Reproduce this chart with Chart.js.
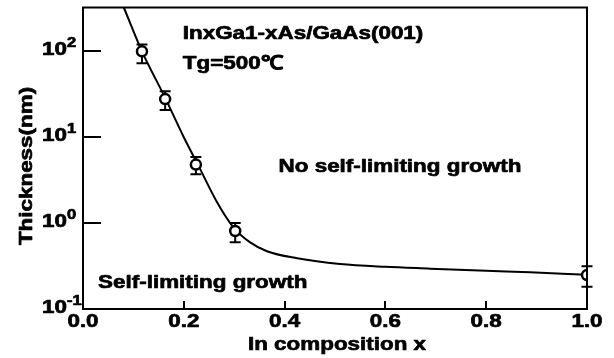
<!DOCTYPE html>
<html>
<head>
<meta charset="utf-8">
<script src="https://cdn.jsdelivr.net/npm/chart.js@4/dist/chart.umd.min.js"></script>
<style>
html,body{margin:0;padding:0;background:#fff;}
#wrap{width:614px;height:358px;}
</style>
</head>
<body>
<div id="wrap"><canvas id="c" width="614" height="358"></canvas></div>
<script>
// ---- data ----
const pointX   = [0.117, 0.163, 0.224, 0.302, 1.0];
const pointY   = [100, 27.8, 4.8, 0.81, 0.248];
const errLow   = [72.6, 20.7, 3.7, 0.60, 0.181];
const errHigh  = [120, 34.4, 5.9, 1.0, 0.315];

const curveX = [0.081, 0.117, 0.164, 0.200, 0.228, 0.266, 0.298, 0.331, 0.365, 0.425, 0.51, 0.60, 0.689, 0.80, 0.887, 1.0];
const curveY = [324, 100, 28, 10, 4.8, 1.75, 0.90, 0.60, 0.47, 0.39, 0.335, 0.31, 0.295, 0.278, 0.268, 0.25];

const xTickValues = [0, 0.2, 0.4, 0.6, 0.8, 1.0];
const xTickLabels = ['0.0', '0.2', '0.4', '0.6', '0.8', '1.0'];
const yTickValues = [0.1, 1, 10, 100];
const yTickExponents = ['-1', '0', '1', '2'];

const xTitle = 'In composition x';
const yTitle = 'Thickness(nm)';
const annotations = [
  {text: 'InxGa1-xAs/GaAs(001)', x: 0.198, y: 138},
  {text: 'Tg=500\u2103', x: 0.198, y: 62},
  {text: 'No self-limiting growth', x: 0.388, y: 3.9},
  {text: 'Self-limiting growth', x: 0.030, y: 0.175}
];

const FONT = '"Liberation Sans", Arial, sans-serif';
const SX = 1.18;

function txt(ctx, s, x, y, size, align) {
  ctx.save();
  ctx.font = 'bold ' + size + 'px ' + FONT;
  ctx.fillStyle = '#000';
  ctx.strokeStyle = '#000';
  ctx.lineWidth = 0.7;
  ctx.lineJoin = 'round';
  ctx.textBaseline = 'alphabetic';
  ctx.textAlign = align || 'left';
  ctx.translate(x, y);
  ctx.scale(SX, 1);
  ctx.fillText(s, 0, 0);
  ctx.strokeText(s, 0, 0);
  const w = ctx.measureText(s).width * SX;
  ctx.restore();
  return w;
}

const errorBars = {
  id: 'errorBars',
  beforeDatasetsDraw(chart) {
    const ctx = chart.ctx, xs = chart.scales.x, ys = chart.scales.y;
    ctx.save();
    ctx.strokeStyle = '#000';
    ctx.lineWidth = 2;
    for (let i = 0; i < pointX.length; i++) {
      const px = xs.getPixelForValue(pointX[i]);
      const pl = ys.getPixelForValue(errLow[i]);
      const ph = ys.getPixelForValue(errHigh[i]);
      ctx.beginPath();
      ctx.moveTo(px, pl); ctx.lineTo(px, ph);
      ctx.moveTo(px - 5.5, pl); ctx.lineTo(px + 5.5, pl);
      ctx.moveTo(px - 5.5, ph); ctx.lineTo(px + 5.5, ph);
      ctx.stroke();
    }
    ctx.restore();
  }
};

const frame = {
  id: 'frame',
  afterDraw(chart) {
    const ctx = chart.ctx, a = chart.chartArea, xs = chart.scales.x, ys = chart.scales.y;
    ctx.save();
    ctx.strokeStyle = '#000';
    ctx.lineWidth = 2;
    ctx.strokeRect(a.left, a.top, a.right - a.left, a.bottom - a.top);
    ctx.beginPath();
    yTickValues.forEach(v => {
      const y = Math.round(ys.getPixelForValue(v));
      if (y > a.top + 1 && y < a.bottom - 1) { ctx.moveTo(a.left, y); ctx.lineTo(a.left + 18, y); }
    });
    xTickValues.forEach(v => {
      const x = Math.round(xs.getPixelForValue(v));
      if (x > a.left + 1 && x < a.right - 1) { ctx.moveTo(x, a.bottom); ctx.lineTo(x, a.bottom - 8); }
    });
    ctx.stroke();
    ctx.restore();

    xTickValues.forEach((v, i) => {
      txt(ctx, xTickLabels[i], xs.getPixelForValue(v), a.bottom + 18, 19, 'center');
    });
    yTickValues.forEach((v, i) => {
      const y = ys.getPixelForValue(v);
      const w = txt(ctx, '10', 42, y + 4, 19, 'left');
      txt(ctx, yTickExponents[i], 42 + w, y - 4, 14, 'left');
    });
    txt(ctx, xTitle, (a.left + a.right) / 2 + 2, a.bottom + 41, 19, 'center');
    ctx.save();
    ctx.translate(32, 166);
    ctx.rotate(-Math.PI / 2);
    txt(ctx, yTitle, 0, 0, 19, 'center');
    ctx.restore();
    annotations.forEach(an => {
      txt(ctx, an.text, xs.getPixelForValue(an.x), ys.getPixelForValue(an.y), 19, 'left');
    });
  }
};

new Chart(document.getElementById('c'), {
  type: 'scatter',
  data: {
    datasets: [
      {
        label: 'measured',
        data: pointX.map((x, i) => ({x: x, y: pointY[i]})),
        showLine: false,
        pointStyle: 'circle',
        pointRadius: 5,
        pointBorderWidth: 2.5,
        pointBorderColor: '#000',
        pointBackgroundColor: '#fff',
        order: 0
      },
      {
        label: 'fit',
        data: curveX.map((x, i) => ({x: x, y: curveY[i]})),
        showLine: true,
        borderColor: '#000',
        borderWidth: 2,
        pointRadius: 0,
        cubicInterpolationMode: 'monotone',
        fill: false,
        order: 1
      }
    ]
  },
  options: {
    responsive: false,
    animation: false,
    events: [],
    layout: {padding: {left: 83, right: 27, top: 6, bottom: 49}},
    plugins: {legend: {display: false}, tooltip: {enabled: false}},
    scales: {
      x: {type: 'linear', min: 0, max: 1, display: false},
      y: {type: 'logarithmic', min: 0.1, max: 324, display: false}
    }
  },
  plugins: [errorBars, frame]
});
</script>
</body>
</html>
